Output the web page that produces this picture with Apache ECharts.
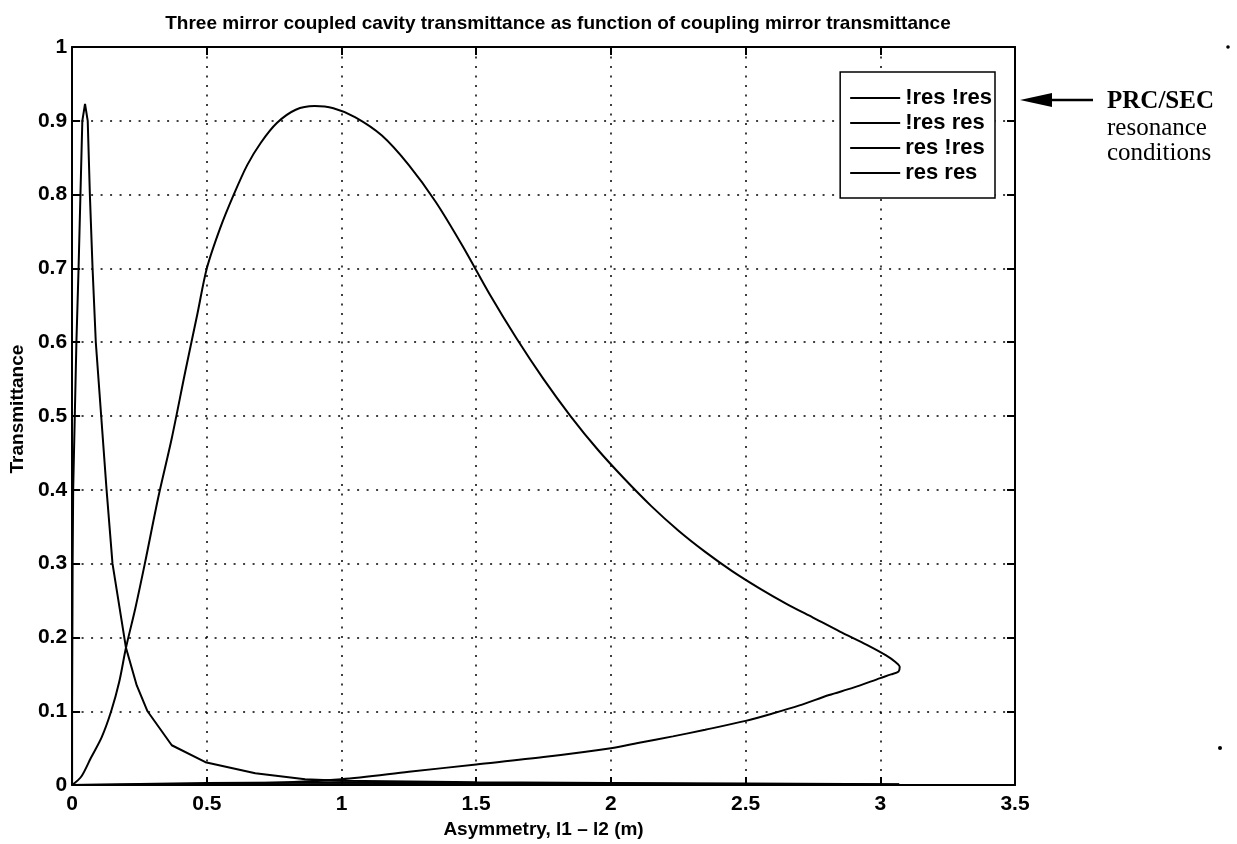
<!DOCTYPE html>
<html>
<head>
<meta charset="utf-8">
<script src="https://cdn.jsdelivr.net/npm/echarts@6/dist/echarts.min.js"></script>
<style>
html,body{margin:0;padding:0;background:#fff;}
#chart{width:1237px;height:844px;}
</style>
</head>
<body>
<div id="chart"></div>
<script>
// ---- data ----
var titleText = 'Three mirror coupled cavity transmittance as function of coupling mirror transmittance';
var xName = 'Asymmetry, l1 \u2013 l2 (m)';
var yName = 'Transmittance';
var legendNames = ['!res !res', '!res res', 'res !res', 'res res'];
var xTicks = [0, 0.5, 1, 1.5, 2, 2.5, 3, 3.5];
var yTicks = [0, 0.1, 0.2, 0.3, 0.4, 0.5, 0.6, 0.7, 0.8, 0.9, 1];

// big loop
var loopX = [0,0.035,0.07,0.11,0.145,0.175,0.2,0.235,0.27,0.32,0.37,0.42,0.466,0.5,0.55,0.6,0.65,0.7,0.76,0.83,0.9,0.97,1.05,1.15,1.25,1.35,1.45,1.55,1.65,1.75,1.85,1.95,2.05,2.15,2.25,2.35,2.45,2.55,2.65,2.75,2.85,2.95,3.02,3.055,3.072,3.068,3.04,3.0,2.9,2.81,2.7,2.6,2.5,2.35,2.23,2.1,2.0,1.75,1.5,1.25,1.0,0.8,0.5,0.25,0];
var loopY = [0,0.012,0.037,0.065,0.1,0.14,0.186,0.24,0.3,0.39,0.47,0.56,0.64,0.70,0.755,0.8,0.84,0.87,0.897,0.915,0.92,0.917,0.905,0.88,0.84,0.79,0.73,0.665,0.605,0.55,0.5,0.455,0.415,0.378,0.345,0.316,0.29,0.267,0.246,0.227,0.208,0.19,0.176,0.167,0.16,0.154,0.15,0.145,0.132,0.122,0.108,0.097,0.087,0.075,0.066,0.057,0.05,0.038,0.028,0.018,0.008,0.004,0.0015,0.0005,0];
// narrow peak
var peakX = [0,0.0,0.002,0.004,0.01,0.016,0.024,0.031,0.038,0.048,0.058,0.066,0.076,0.088,0.108,0.128,0.15,0.2,0.24,0.28,0.37,0.495,0.68,0.865,1.0,1.5,2.0,2.5,3.07];
var peakY = [0,0.1,0.3,0.4,0.5,0.6,0.7,0.8,0.9,0.923,0.9,0.8,0.7,0.6,0.5,0.4,0.3,0.186,0.135,0.1,0.054,0.031,0.016,0.008,0.006,0.004,0.003,0.002,0.001];
// near-zero branches
var flatAX = [0,0.5,1.0,1.5,2.0,2.5,3.07];
var flatAY = [0,0.003,0.004,0.003,0.002,0.001,0.0005];
var flatBX = [0,0.6,1.2,1.8,2.4,3.07];
var flatBY = [0,0.001,0.0015,0.001,0.0008,0.0004];

function zip(xs, ys){ return xs.map(function(x,i){ return [x, ys[i]]; }); }

var FONT = '"Liberation Sans", Arial, Helvetica, sans-serif';
var SERIF = '"Liberation Serif", "Times New Roman", serif';
var dotted = {color:'#000', width:1.5, type:[2,7.5]};

var chart = echarts.init(document.getElementById('chart'), null, {renderer:'canvas'});
function lineSeries(name, data, smooth){
  return {name:name, type:'line', data:data, showSymbol:false, symbol:'none',
    xAxisIndex:0, yAxisIndex:0, smooth:smooth || false, animation:false,
    lineStyle:{color:'#000', width:2}, itemStyle:{color:'#000'}, emphasis:{disabled:true}};
}
var option = {
  animation:false,
  backgroundColor:'#fff',
  title:{text:titleText, left:553, top:9, textAlign:'center',
    textStyle:{fontFamily:FONT, fontSize:19, fontWeight:'bold', color:'#000'}},
  grid:{left:72, right:222, top:47, bottom:58, containLabel:false},
  legend:{orient:'vertical', right:242, top:72, data:legendNames, icon:'rect',
    itemWidth:50, itemHeight:2, itemGap:3,
    textStyle:{fontFamily:FONT, fontSize:22, fontWeight:'bold', color:'#000', lineHeight:22},
    borderColor:'#000', borderWidth:1.5, backgroundColor:'#fff', padding:[15,3,14,10],
    selectedMode:false},
  xAxis:[
    {type:'value', min:0, max:3.5, interval:0.5, position:'bottom',
     name:xName, nameLocation:'middle', nameGap:34,
     nameTextStyle:{fontFamily:FONT, fontSize:19, fontWeight:'bold', color:'#000'},
     axisLine:{show:true, onZero:false, lineStyle:{color:'#000', width:2}},
     axisTick:{show:true, inside:true, length:8, lineStyle:{color:'#000', width:2}},
     axisLabel:{fontFamily:FONT, fontSize:21, fontWeight:'bold', color:'#000', margin:9,
       formatter:function(v){ return xTicks.indexOf(v)>=0 ? String(v) : ''; }},
     splitLine:{show:true, lineStyle:dotted}},
    {type:'value', min:0, max:3.5, interval:0.5, position:'top',
     axisLine:{show:true, onZero:false, lineStyle:{color:'#000', width:2}},
     axisTick:{show:true, inside:true, length:8, lineStyle:{color:'#000', width:2}},
     axisLabel:{show:false}, splitLine:{show:false}}
  ],
  yAxis:[
    {type:'value', min:0, max:1, interval:0.1, position:'left',
     name:yName, nameLocation:'middle', nameGap:44, nameRotate:90,
     nameTextStyle:{fontFamily:FONT, fontSize:19, fontWeight:'bold', color:'#000', padding:[0,0,0,14]},
     axisLine:{show:true, onZero:false, lineStyle:{color:'#000', width:2}},
     axisTick:{show:true, inside:true, length:8, lineStyle:{color:'#000', width:2}},
     axisLabel:{fontFamily:FONT, fontSize:21, fontWeight:'bold', color:'#000', margin:5,
       formatter:function(v){ var r=Math.round(v*10)/10; return yTicks.indexOf(r)>=0 ? String(r) : ''; }},
     splitLine:{show:true, lineStyle:dotted}},
    {type:'value', min:0, max:1, interval:0.1, position:'right',
     axisLine:{show:true, onZero:false, lineStyle:{color:'#000', width:2}},
     axisTick:{show:true, inside:true, length:8, lineStyle:{color:'#000', width:2}},
     axisLabel:{show:false}, splitLine:{show:false}}
  ],
  series:[
    lineSeries(legendNames[0], zip(loopX, loopY), 0.3),
    lineSeries(legendNames[1], zip(peakX, peakY), false),
    lineSeries(legendNames[2], zip(flatAX, flatAY), false),
    lineSeries(legendNames[3], zip(flatBX, flatBY), false)
  ],
  graphic:[
    {type:'polygon', shape:{points:[[1020,100],[1052,93],[1052,107]]}, style:{fill:'#000'}},
    {type:'line', shape:{x1:1050, y1:100, x2:1093, y2:100}, style:{stroke:'#000', lineWidth:2.5}},
    {type:'text', left:1107, top:89, style:{text:'PRC/SEC', font:'bold 25px '+SERIF, fill:'#000'}},
    {type:'text', left:1107, top:116, style:{text:'resonance', font:'25px '+SERIF, fill:'#000'}},
    {type:'text', left:1107, top:141, style:{text:'conditions', font:'25px '+SERIF, fill:'#000'}},
    {type:'circle', shape:{cx:1228, cy:47, r:1.8}, style:{fill:'#000'}},
    {type:'circle', shape:{cx:1220, cy:748, r:2}, style:{fill:'#000'}}
  ]
};
chart.setOption(option);
</script>
</body>
</html>
